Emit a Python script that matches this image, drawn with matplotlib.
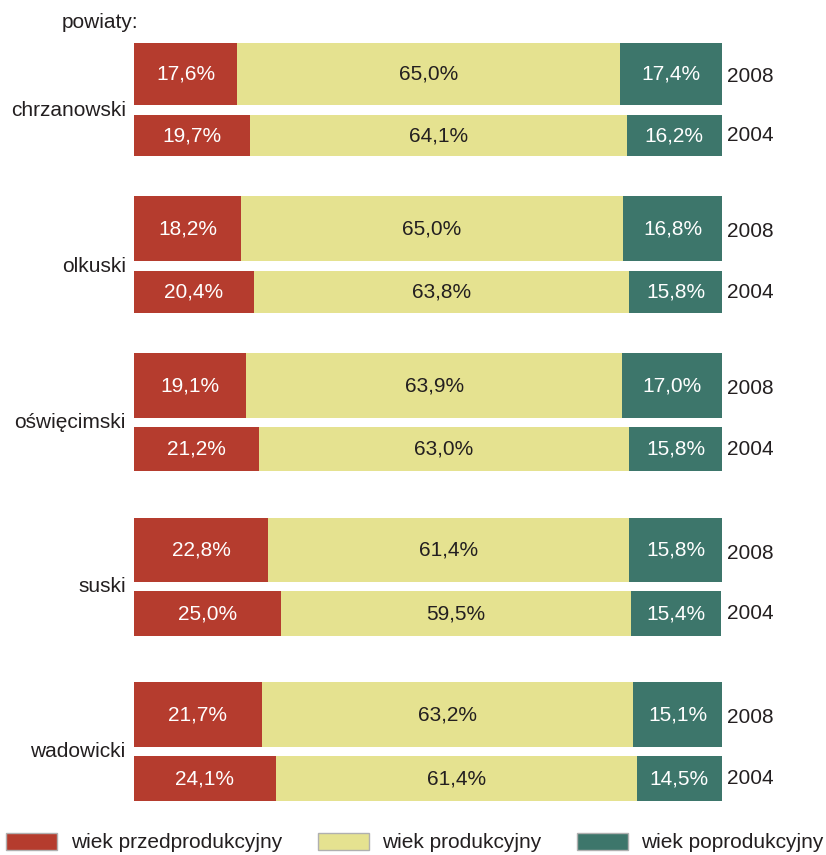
import matplotlib
matplotlib.use("Agg")
import matplotlib.pyplot as plt
from matplotlib.patches import Patch

plt.rcParams['font.family'] = ['Liberation Sans', 'DejaVu Sans']

districts = ["chrzanowski", "olkuski", "oświęcimski", "suski", "wadowicki"]
years = ["2008", "2004"]
pre_2008 = [17.6, 18.2, 19.1, 22.8, 21.7]
work_2008 = [65.0, 65.0, 63.9, 61.4, 63.2]
post_2008 = [17.4, 16.8, 17.0, 15.8, 15.1]
pre_2004 = [19.7, 20.4, 21.2, 25.0, 24.1]
work_2004 = [64.1, 63.8, 63.0, 59.5, 61.4]
post_2004 = [16.2, 15.8, 15.8, 15.4, 14.5]
series_names = ["wiek przedprodukcyjny", "wiek produkcyjny", "wiek poprodukcyjny"]

colors = ["#B53C2E", "#E5E290", "#3D766B"]
txt_colors = ["white", "#231F20", "white"]
dark = "#231F20"

W, H = 826, 855
fig = plt.figure(figsize=(W / 100, H / 100), dpi=100)
x0, x1 = 134, 722
ax = fig.add_axes([x0 / W, 0, (x1 - x0) / W, 1])
ax.set_xlim(0, 100)
ax.set_ylim(H, 0)
ax.axis("off")

# layout (pixel rows of bars)
tops08 = [43, 196, 353, 518, 682]
bots08 = [105, 261, 418, 582, 747]
tops04 = [115, 271, 427, 591, 756]
bots04 = [156, 313, 471, 636, 801]

def fmt(v):
    return f"{v:.1f}%".replace(".", ",")

for rows, tops, bots, yr, yoff in [
    ((pre_2008, work_2008, post_2008), tops08, bots08, years[0], 3),
    ((pre_2004, work_2004, post_2004), tops04, bots04, years[1], 0),
]:
    for i in range(len(districts)):
        yc = (tops[i] + bots[i]) / 2
        h = bots[i] - tops[i]
        left = 0
        for k, vals in enumerate(rows):
            v = vals[i]
            ax.barh(yc, v, left=left, height=h, color=colors[k], edgecolor="none")
            ax.text(left + v / 2, yc, fmt(v), ha="center", va="center",
                    color=txt_colors[k], fontsize=15)
            left += v
        ax.text(100.85, yc + yoff, yr, ha="left", va="center", color=dark, fontsize=15)

for i, d in enumerate(districts):
    yc = (bots08[i] + tops04[i]) / 2
    ax.text(-1.4, yc, d, ha="right", va="center", color=dark, fontsize=15)

fig.text(62 / W, 1 - 22 / H, "powiaty:", ha="left", va="center", color=dark, fontsize=15)

handles = [Patch(facecolor=c, edgecolor="#b0b0b0", linewidth=1) for c in colors]
fig.legend(handles, series_names, loc="center left",
           bbox_to_anchor=(-4 / W, 1 - 842.5 / H), ncol=3, frameon=False,
           fontsize=15, borderpad=0, handlelength=2.45, handleheight=0.9,
           handletextpad=0.65, columnspacing=1.7, labelcolor=dark)

fig.savefig("out.png", dpi=100)
